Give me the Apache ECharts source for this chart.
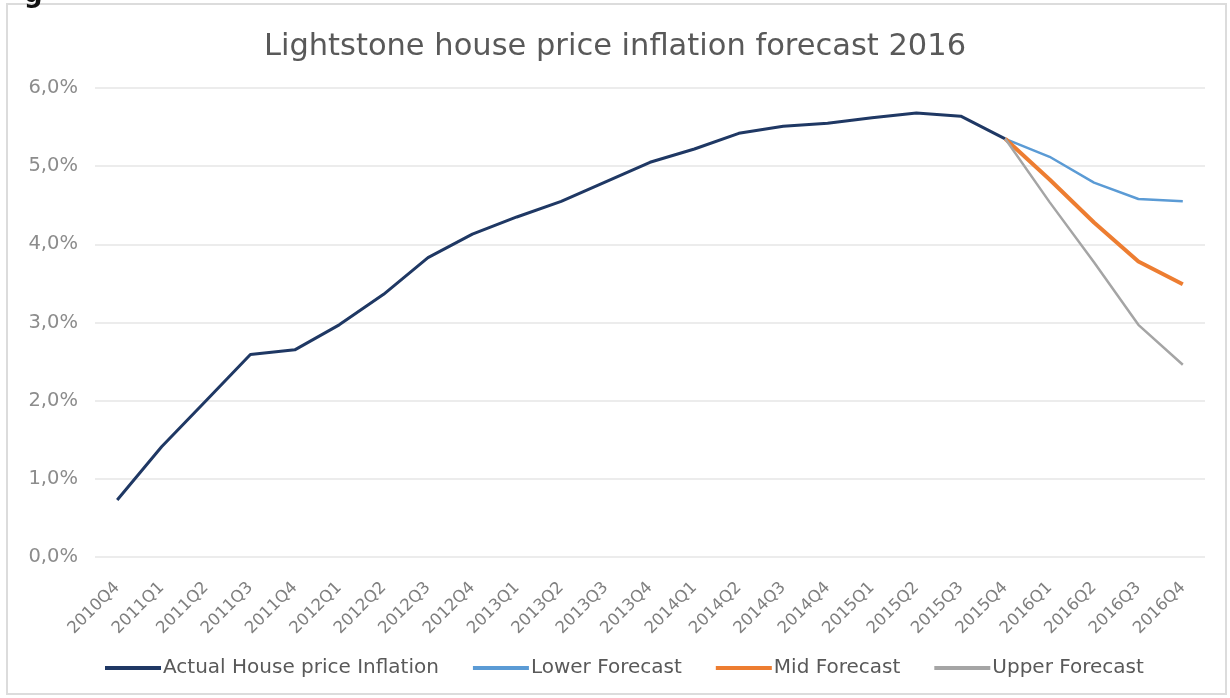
<!DOCTYPE html>
<html>
<head>
<meta charset="utf-8">
<title>Lightstone house price inflation forecast 2016</title>
<script src="https://cdn.jsdelivr.net/npm/echarts@6/dist/echarts.min.js"></script>
<style>
  html, body { margin: 0; padding: 0; background: #fff; }
  #chart { width: 1230px; height: 698px; }
</style>
</head>
<body>
<div id="chart"></div>
<script>
const quarters = [
  '2010Q4', '2011Q1', '2011Q2', '2011Q3', '2011Q4', '2012Q1', '2012Q2', '2012Q3', '2012Q4',
  '2013Q1', '2013Q2', '2013Q3', '2013Q4', '2014Q1', '2014Q2', '2014Q3', '2014Q4',
  '2015Q1', '2015Q2', '2015Q3', '2015Q4', '2016Q1', '2016Q2', '2016Q3', '2016Q4'
];

// values in percent
const actual = [
  0.73, 1.41, 2.0, 2.59, 2.65, 2.97, 3.36, 3.83, 4.13,
  4.35, 4.55, 4.8, 5.05, 5.22, 5.42, 5.51, 5.55,
  5.62, 5.68, 5.64, 5.35, null, null, null, null
];
const lowerForecast = [
  null, null, null, null, null, null, null, null, null,
  null, null, null, null, null, null, null, null,
  null, null, null, 5.35, 5.12, 4.79, 4.58, 4.55
];
const midForecast = [
  null, null, null, null, null, null, null, null, null,
  null, null, null, null, null, null, null, null,
  null, null, null, 5.35, 4.83, 4.28, 3.78, 3.49
];
const upperForecast = [
  null, null, null, null, null, null, null, null, null,
  null, null, null, null, null, null, null, null,
  null, null, null, 5.35, 4.54, 3.77, 2.97, 2.46
];

const seriesNames = ['Actual House price Inflation', 'Lower Forecast', 'Mid Forecast', 'Upper Forecast'];
const colors = ['#1f3864', '#5b9bd5', '#ed7d31', '#a5a5a5'];
const widths = [3, 2.5, 4, 2.5];
const fontFamily = '"DejaVu Sans", sans-serif';

const chart = echarts.init(document.getElementById('chart'), null, { renderer: 'canvas' });

const lineSeries = (name, data, i) => ({
  type: 'line',
  name,
  data,
  symbol: 'none',
  connectNulls: false,
  color: colors[i],
  lineStyle: { color: colors[i], width: widths[i] },
  z: i === 0 ? 2 : 3,
  animation: false,
});

chart.setOption({
  animation: false,
  backgroundColor: '#fff',
  title: {
    text: 'Lightstone house price inflation forecast 2016',
    left: 'center',
    top: 27,
    textStyle: { color: '#595959', fontSize: 30.5, fontWeight: 'normal', fontFamily },
  },
  graphic: [
    {
      type: 'rect',
      shape: { x: 7, y: 4, width: 1219, height: 690 },
      style: { fill: 'none', stroke: '#dcdcdc', lineWidth: 2 },
      silent: true,
    },
    {
      type: 'text',
      left: 24,
      top: -18,
      style: { text: 'g', fill: '#111', font: 'bold 26px ' + fontFamily },
      silent: true,
    },
  ],
  legend: {
    bottom: 15,
    left: 100,
    itemWidth: 56,
    itemHeight: 4,
    itemGap: 34,
    icon: 'rect',
    data: seriesNames,
    textStyle: { color: '#595959', fontSize: 20, fontFamily, padding: [0, 0, 0, -3] },
  },
  grid: { left: 95, right: 25, top: 88, bottom: 141 },
  xAxis: {
    type: 'category',
    data: quarters,
    boundaryGap: true,
    axisLine: { show: false },
    axisTick: { show: false },
    axisLabel: {
      rotate: 45,
      color: '#7f7f7f',
      fontSize: 16.5,
      fontFamily,
      margin: 28,
      interval: 0,
    },
  },
  yAxis: {
    type: 'value',
    min: 0,
    max: 6,
    interval: 1,
    axisLine: { show: false },
    axisTick: { show: false },
    splitLine: { lineStyle: { color: '#e6e6e6', width: 1.5 } },
    axisLabel: {
      color: '#8c8c8c',
      fontSize: 19.5,
      fontFamily,
      margin: 17,
      formatter: (v) => v.toFixed(1).replace('.', ',') + '%',
    },
  },
  series: [
    lineSeries(seriesNames[0], actual, 0),
    lineSeries(seriesNames[1], lowerForecast, 1),
    lineSeries(seriesNames[2], midForecast, 2),
    lineSeries(seriesNames[3], upperForecast, 3),
  ],
});

window.addEventListener('resize', () => chart.resize());
</script>
</body>
</html>
